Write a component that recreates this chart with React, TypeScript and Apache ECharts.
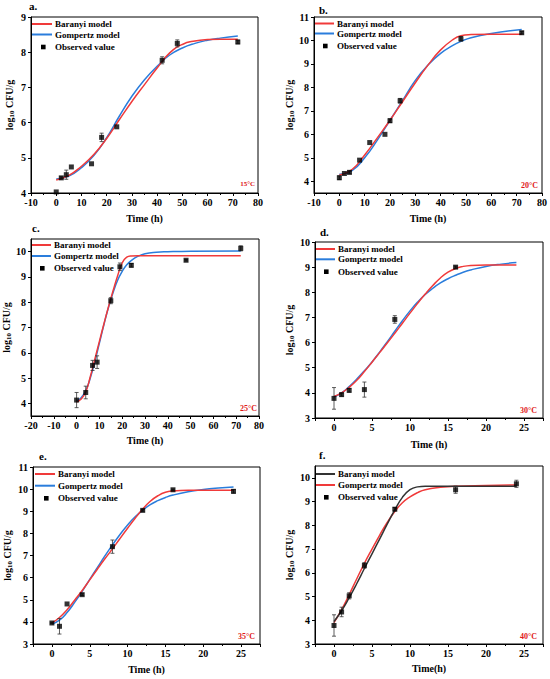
import React, { useEffect, useRef } from "react";
import * as echarts from "echarts";

const FONT = '"Liberation Serif", "Times New Roman", Times, serif';
const RED = "#f03a3a";
const BLUE = "#2a7ddc";
const DARK = "#333333";

// ---- Panel a (15°C)
const aTime = [0, 2, 4, 6, 14, 18, 24, 42, 48, 72];
const aObs = [4.03, 4.43, 4.52, 4.74, 4.83, 5.58, 5.88, 7.77, 8.25, 8.29];
const aErr = [0, 0.03, 0.13, 0, 0, 0.12, 0, 0.1, 0.1, 0.05];
const aFitTime = [0, 5, 10, 15, 20, 25, 30, 35, 40, 45, 50, 55, 60, 65, 72];
const aBaranyi = [4.37, 4.5, 4.76, 5.1, 5.55, 6.08, 6.6, 7.08, 7.55, 7.98, 8.22, 8.32, 8.36, 8.37, 8.37];
const aGompertz = [4.4, 4.48, 4.72, 5.07, 5.57, 6.18, 6.75, 7.22, 7.6, 7.92, 8.12, 8.25, 8.34, 8.4, 8.46];

// ---- Panel b (20°C)
const bTime = [0, 2, 4, 8, 12, 18, 20, 24, 48, 72];
const bObs = [4.15, 4.33, 4.38, 4.9, 5.65, 6.0, 6.58, 7.43, 10.07, 10.33];
const bErr = [0.08, 0, 0.06, 0, 0, 0, 0.08, 0.1, 0.1, 0.05];
const bFitTime = [0, 5, 10, 15, 20, 25, 30, 35, 40, 45, 48, 52, 60, 72];
const bBaranyi = [4.27, 4.5, 5.12, 5.85, 6.6, 7.4, 8.2, 8.95, 9.6, 10.05, 10.2, 10.25, 10.27, 10.27];
const bGompertz = [4.3, 4.45, 5.0, 5.75, 6.6, 7.45, 8.3, 8.95, 9.45, 9.8, 9.96, 10.12, 10.3, 10.47];

// ---- Panel c (25°C)
const cTime = [0, 4, 7, 9, 15, 19, 24, 48, 72];
const cObs = [4.13, 4.43, 5.5, 5.63, 8.06, 9.4, 9.46, 9.66, 10.13];
const cErr = [0.3, 0.25, 0.2, 0.25, 0.12, 0.15, 0.07, 0.03, 0.1];
const cFitTime = [0, 2, 4, 6, 8, 10, 12, 14, 16, 18, 20, 22, 24, 27, 30, 35, 40, 50, 72];
const cBaranyi = [4.05, 4.17, 4.45, 5.05, 5.75, 6.45, 7.15, 7.82, 8.45, 9.05, 9.55, 9.78, 9.83, 9.84, 9.84, 9.84, 9.84, 9.84, 9.84];
const cGompertz = [4.1, 4.22, 4.5, 5.0, 5.65, 6.38, 7.12, 7.8, 8.38, 8.87, 9.22, 9.48, 9.65, 9.82, 9.92, 9.98, 10.0, 10.02, 10.03];

// ---- Panel d (30°C)
const dTime = [0, 1, 2, 4, 8, 16];
const dObs = [3.78, 3.93, 4.1, 4.13, 6.92, 9.0];
const dErr = [0.43, 0.06, 0.07, 0.3, 0.15, 0.04];
const dFitTime = [0, 1, 2, 3, 4, 5, 6, 7, 8, 9, 10, 11, 12, 13, 14, 15, 16, 17, 18, 20, 22, 24];
const dBaranyi = [3.86, 4.0, 4.22, 4.5, 4.85, 5.22, 5.6, 5.98, 6.37, 6.77, 7.17, 7.56, 7.93, 8.27, 8.57, 8.8, 8.95, 9.03, 9.07, 9.09, 9.09, 9.09];
const dGompertz = [3.84, 4.0, 4.25, 4.55, 4.88, 5.23, 5.62, 6.03, 6.45, 6.87, 7.26, 7.61, 7.91, 8.16, 8.37, 8.54, 8.68, 8.8, 8.89, 9.03, 9.12, 9.18];

// ---- Panel e (35°C)
const eTime = [0, 1, 2, 4, 8, 12, 16, 24];
const eObs = [3.95, 3.8, 4.81, 5.23, 7.4, 9.04, 9.97, 9.9];
const eErr = [0.03, 0.35, 0, 0.04, 0.3, 0.04, 0.03, 0.08];
const eFitTime = [0, 1, 2, 3, 4, 5, 6, 7, 8, 9, 10, 11, 12, 13, 14, 15, 16, 18, 20, 22, 24];
const eBaranyi = [3.95, 4.2, 4.55, 4.98, 5.42, 5.9, 6.38, 6.85, 7.3, 7.77, 8.23, 8.68, 9.1, 9.45, 9.7, 9.86, 9.92, 9.95, 9.95, 9.95, 9.95];
const eGompertz = [3.9, 4.08, 4.42, 4.88, 5.38, 5.92, 6.45, 6.98, 7.48, 7.95, 8.38, 8.75, 9.05, 9.3, 9.48, 9.62, 9.73, 9.88, 9.98, 10.05, 10.1];

// ---- Panel f (40°C)
const fTime = [0, 1, 2, 4, 8, 16, 24];
const fObs = [3.78, 4.35, 5.03, 6.31, 8.68, 9.5, 9.75];
const fErr = [0.45, 0.2, 0.13, 0.12, 0.07, 0.15, 0.15];
const fFitTime = [0, 1, 2, 3, 4, 5, 6, 7, 8, 9, 10, 11, 12, 14, 16, 20, 24];
const fBaranyi = [3.95, 4.4, 4.95, 5.55, 6.18, 6.8, 7.42, 8.05, 8.65, 9.18, 9.5, 9.62, 9.65, 9.65, 9.65, 9.65, 9.65];
const fGompertz = [3.9, 4.45, 5.08, 5.75, 6.4, 7.0, 7.58, 8.12, 8.58, 8.95, 9.2, 9.38, 9.5, 9.6, 9.65, 9.68, 9.7];

const legendNames = ["Baranyi model", "Gompertz model", "Observed value"];

const panels = [
  { letter: "a.", temp: "15°C", time: aTime, obs: aObs, err: aErr, fitTime: aFitTime, baranyi: aBaranyi, gompertz: aGompertz, bColor: RED, gColor: BLUE, xTitle: "Time (h)" },
  { letter: "b.", temp: "20°C", time: bTime, obs: bObs, err: bErr, fitTime: bFitTime, baranyi: bBaranyi, gompertz: bGompertz, bColor: RED, gColor: BLUE, xTitle: "Time (h)" },
  { letter: "c.", temp: "25°C", time: cTime, obs: cObs, err: cErr, fitTime: cFitTime, baranyi: cBaranyi, gompertz: cGompertz, bColor: RED, gColor: BLUE, xTitle: "Time (h)" },
  { letter: "d.", temp: "30°C", time: dTime, obs: dObs, err: dErr, fitTime: dFitTime, baranyi: dBaranyi, gompertz: dGompertz, bColor: RED, gColor: BLUE, xTitle: "Time (h)" },
  { letter: "e.", temp: "35°C", time: eTime, obs: eObs, err: eErr, fitTime: eFitTime, baranyi: eBaranyi, gompertz: eGompertz, bColor: RED, gColor: BLUE, xTitle: "Time (h)" },
  { letter: "f.", temp: "40°C", time: fTime, obs: fObs, err: fErr, fitTime: fFitTime, baranyi: fBaranyi, gompertz: fGompertz, bColor: DARK, gColor: RED, xTitle: "Time(h)" },
];

const layout = [
  { left: 31, top: 17, width: 227, height: 176, xMin: -10, xMax: 80, xStep: 10, yMin: 4, yMax: 9, yStep: 1, yGap: 16, xGap: 20, lx: 29, ly: 6, tSize: 7, tdx: 3, tdy: 9, legDx: 1, legRows: [7, 17.5, 30] },
  { left: 314, top: 17, width: 228, height: 176, xMin: -10, xMax: 80, xStep: 10, yMin: 3.5, yMax: 11, yStep: 1, yGap: 18, xGap: 20, lx: 319, ly: 10, tSize: 8, tdx: 4, tdy: 8, legDx: 0, legRows: [6.5, 16.5, 29] },
  { left: 31, top: 239, width: 228, height: 177, xMin: -20, xMax: 80, xStep: 10, yMin: 3.5, yMax: 10.5, yStep: 1, yGap: 16, xGap: 19, lx: 32, ly: 228, tSize: 8, tdx: 2, tdy: 8, legDx: 0, legRows: [6, 17, 29.3] },
  { left: 315, top: 242, width: 228, height: 176, xMin: -2.5, xMax: 27.5, xStep: 5, yMin: 3, yMax: 10, yStep: 1, yGap: 20, xGap: 21, lx: 320, ly: 232, tSize: 8, tdx: 6, tdy: 8, legDx: 0, legRows: [7, 17.3, 29.7] },
  { left: 33, top: 467, width: 227, height: 177, xMin: -2.5, xMax: 27.5, xStep: 5, yMin: 3, yMax: 11, yStep: 1, yGap: 20, xGap: 20, lx: 39, ly: 456, tSize: 8, tdx: 5, tdy: 8, legDx: 2, legRows: [7, 18.7, 31.3] },
  { left: 315, top: 466, width: 228, height: 178, xMin: -2.5, xMax: 27.5, xStep: 5, yMin: 3, yMax: 10.5, yStep: 1, yGap: 20, xGap: 19, lx: 319, ly: 455, tSize: 8, tdx: 6, tdy: 8, legDx: 0, legRows: [8, 19, 31.3] },
];

const zip = (xs: number[], ys: number[]) => xs.map((x, i) => [x, ys[i]]);

const isAligned = (v: number, step: number) => Math.abs(v / step - Math.round(v / step)) < 1e-9;

function scaleOpts(min: number, max: number, step: number) {
  const minOk = isAligned(min, step);
  const maxOk = isAligned(max, step);
  if (minOk) return { scale: { min, max, interval: step }, showMin: true, showMax: maxOk };
  return { scale: { min, max, splitNumber: Math.round((max - min) / step) }, showMin: false, showMax: maxOk };
}

function buildOption() {
  const textBase = { fontFamily: FONT, fontWeight: "bold" as const, color: "#000" };
  const grid: any[] = [];
  const xAxis: any[] = [];
  const yAxis: any[] = [];
  const series: any[] = [];
  const graphic: any[] = [];

  panels.forEach((p, i) => {
    const L = layout[i];
    grid.push({ left: L.left, top: L.top, width: L.width, height: L.height, show: true, borderColor: "#000", borderWidth: 1, containLabel: false, outerBoundsMode: "none" });
    const xs = scaleOpts(L.xMin, L.xMax, L.xStep);
    const ys = scaleOpts(L.yMin, L.yMax, L.yStep);
    xAxis.push({
      type: "value", gridIndex: i, ...xs.scale,
      name: p.xTitle, nameLocation: "middle", nameGap: L.xGap,
      nameTextStyle: { ...textBase, fontSize: 10 },
      axisLine: { show: true, onZero: false, lineStyle: { color: "#000", width: 1 } },
      axisTick: { show: true, inside: false, length: 3, lineStyle: { color: "#000", width: 1 } },
      minorTick: { show: true, splitNumber: 2, length: 2, lineStyle: { color: "#000", width: 1 } },
      splitLine: { show: false },
      axisLabel: { ...textBase, fontSize: 10, margin: 4, showMinLabel: xs.showMin, showMaxLabel: xs.showMax },
    });
    yAxis.push({
      type: "value", gridIndex: i, ...ys.scale,
      name: "log{sub|10} CFU/g", nameLocation: "middle", nameGap: L.yGap, nameRotate: 90,
      nameTextStyle: {
        ...textBase, fontSize: 10,
        rich: { sub: { fontFamily: FONT, fontWeight: "bold", fontSize: 7, color: "#000", verticalAlign: "bottom", padding: [5, 0, 0, 0] } },
      },
      axisLine: { show: true, onZero: false, lineStyle: { color: "#000", width: 1 } },
      axisTick: { show: true, inside: false, length: 3, lineStyle: { color: "#000", width: 1 } },
      splitLine: { show: false },
      axisLabel: { ...textBase, fontSize: 10, margin: 5, showMinLabel: ys.showMin, showMaxLabel: ys.showMax },
    });

    series.push({
      type: "line", name: legendNames[0], xAxisIndex: i, yAxisIndex: i,
      data: zip(p.fitTime, p.baranyi), smooth: 0.5,
      symbol: "none", color: p.bColor, lineStyle: { color: p.bColor, width: 1.5 }, z: 3,
    });
    series.push({
      type: "line", name: legendNames[1], xAxisIndex: i, yAxisIndex: i,
      data: zip(p.fitTime, p.gompertz), smooth: 0.5,
      symbol: "none", color: p.gColor, lineStyle: { color: p.gColor, width: 1.5 }, z: 2,
    });
    series.push({
      type: "custom", name: "err" + i, xAxisIndex: i, yAxisIndex: i,
      data: p.time.map((t, k) => [t, p.obs[k], p.err[k]]),
      encode: { x: 0, y: 1 }, z: 4, silent: true,
      renderItem: (params: any, api: any) => {
        const x = api.value(0), y = api.value(1), e = api.value(2);
        if (!e) return null;
        const top = api.coord([x, y + e]);
        const bot = api.coord([x, y - e]);
        const w = 2;
        const st = { stroke: "#333", lineWidth: 0.8 };
        return {
          type: "group",
          children: [
            { type: "line", shape: { x1: top[0], y1: top[1], x2: bot[0], y2: bot[1] }, style: st },
            { type: "line", shape: { x1: top[0] - w, y1: top[1], x2: top[0] + w, y2: top[1] }, style: st },
            { type: "line", shape: { x1: bot[0] - w, y1: bot[1], x2: bot[0] + w, y2: bot[1] }, style: st },
          ],
        };
      },
    });
    series.push({
      type: "scatter", name: legendNames[2], xAxisIndex: i, yAxisIndex: i,
      data: zip(p.time, p.obs), symbol: "rect", symbolSize: 5,
      itemStyle: { color: "#000" }, z: 5,
    });

    // legend keys (drawn as graphic inside the plot frame)
    const lx0 = L.left + L.legDx;
    const rows = L.legRows.map((r) => L.top + r);
    const legFont = `bold 9px ${FONT}`;
    graphic.push({ type: "line", shape: { x1: lx0, y1: rows[0], x2: lx0 + 20, y2: rows[0] }, style: { stroke: p.bColor, lineWidth: 2 } });
    graphic.push({ type: "line", shape: { x1: lx0, y1: rows[1], x2: lx0 + 20, y2: rows[1] }, style: { stroke: p.gColor, lineWidth: 2 } });
    graphic.push({ type: "rect", shape: { x: lx0 + 9, y: rows[2] - 2.3, width: 4.6, height: 4.6 }, style: { fill: "#000" } });
    legendNames.forEach((nm, k) => {
      graphic.push({
        type: "text", x: lx0 + 23, y: rows[k],
        style: { text: nm, fill: "#000", font: legFont, textAlign: "left", textVerticalAlign: "middle", align: "left", verticalAlign: "middle" },
      });
    });

    graphic.push({
      type: "text", x: L.lx, y: L.ly,
      style: { text: p.letter, fill: "#000", font: `bold 11px ${FONT}`, textAlign: "left", textVerticalAlign: "middle", align: "left", verticalAlign: "middle" },
    });
    graphic.push({
      type: "text", x: L.left + L.width - L.tdx, y: L.top + L.height - L.tdy,
      style: { text: p.temp, fill: "#e01818", font: `bold ${L.tSize}px ${FONT}`, textAlign: "right", textVerticalAlign: "middle", align: "right", verticalAlign: "middle" },
    });
  });

  return { animation: false, backgroundColor: "#fff", grid, xAxis, yAxis, series, graphic };
}

export default function App() {
  const ref = useRef<HTMLDivElement>(null);
  useEffect(() => {
    const chart = echarts.init(ref.current as HTMLDivElement, null, { renderer: "svg" });
    chart.setOption(buildOption() as any);
    return () => chart.dispose();
  }, []);
  return (
    <div
      ref={ref}
      style={{ position: "absolute", left: 0, top: 0, width: 550, height: 679, background: "#fff" }}
    />
  );
}
